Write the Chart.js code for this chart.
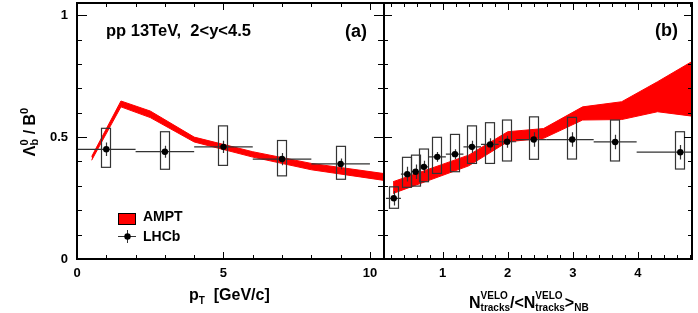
<!DOCTYPE html>
<html>
<head>
<meta charset="utf-8">
<script src="https://cdn.jsdelivr.net/npm/chart.js@4.4.0/dist/chart.umd.min.js"></script>
<style>
    body { margin: 0; background: #fff; width: 698px; height: 313px; overflow: hidden; position: relative; }
    #wrap-a { position: absolute; left: 0; top: 0; }
    #wrap-b { position: absolute; left: 380px; top: 0; }
</style>
</head>
<body>
<div id="wrap-a"><canvas id="chart-a" width="386" height="313"></canvas></div>
<div id="wrap-b"><canvas id="chart-b" width="318" height="313"></canvas></div>
<script>
// ---- panel (a): ratio vs pT ----
const ptCenter = [1, 3, 5, 7, 9];
const ptLow = [0, 2, 4, 6, 8];
const ptHigh = [2, 4, 6, 8, 10];
const ptRatio = [0.45, 0.44, 0.46, 0.41, 0.39];
const ptStat = [0.028, 0.025, 0.025, 0.025, 0.022];
const ptSysLow = [0.376, 0.368, 0.384, 0.341, 0.327];
const ptSysHigh = [0.536, 0.522, 0.546, 0.486, 0.462];

const amptPtX = [0.5, 1.5, 2.5, 4, 6, 8, 10.5];
const amptPtUpper = [0.42, 0.648, 0.607, 0.5, 0.44, 0.392, 0.35];
const amptPtLower = [0.405, 0.624, 0.58, 0.48, 0.418, 0.366, 0.322];

// ---- panel (b): ratio vs normalised multiplicity ----
const multCenter = [0.25, 0.457, 0.585, 0.713, 0.918, 1.19, 1.45, 1.73, 1.99, 2.4, 2.99, 3.65, 4.65];
const multLow = [0.13, 0.36, 0.52, 0.65, 0.79, 1.05, 1.32, 1.59, 1.86, 2.13, 2.6, 3.32, 3.98];
const multHigh = [0.36, 0.52, 0.65, 0.78, 1.05, 1.32, 1.59, 1.86, 2.13, 2.6, 3.32, 3.98, 5.3];
const multRatio = [0.249, 0.348, 0.358, 0.378, 0.419, 0.43, 0.46, 0.47, 0.481, 0.49, 0.49, 0.48, 0.438];
const multStat = [0.03, 0.03, 0.03, 0.025, 0.02, 0.02, 0.025, 0.025, 0.025, 0.03, 0.03, 0.03, 0.03];
const multSysLow = [0.208, 0.294, 0.299, 0.317, 0.351, 0.358, 0.392, 0.392, 0.402, 0.409, 0.41, 0.402, 0.369];
const multSysHigh = [0.296, 0.417, 0.426, 0.451, 0.499, 0.511, 0.546, 0.559, 0.57, 0.583, 0.581, 0.57, 0.522];

const amptMultX = [0.24, 1.4, 2.0, 2.55, 3.15, 3.75, 4.3, 4.83];
const amptMultUpper = [0.317, 0.426, 0.522, 0.535, 0.624, 0.645, 0.727, 0.81];
const amptMultLower = [0.269, 0.382, 0.481, 0.495, 0.57, 0.572, 0.604, 0.586];

// ---- ticks ----
const yMajor = [0, 0.5, 1];
const yMinor = [0.1, 0.2, 0.3, 0.4, 0.6, 0.7, 0.8, 0.9];
const ptMajor = [0, 5, 10];
const ptMinor = [1, 2, 3, 4, 6, 7, 8, 9];
const multMajor = [1, 2, 3, 4];
const multMinor = [0.2, 0.4, 0.6, 0.8, 1.2, 1.4, 1.6, 1.8, 2.2, 2.4, 2.6, 2.8, 3.2, 3.4, 3.6, 3.8, 4.2, 4.4, 4.6, 4.8];

const FONT = '"Liberation Sans", Arial, sans-serif';

function toPoints(xs, ys) {
    return xs.map((v, i) => ({ x: v, y: ys[i] }));
}

// draw a run of text pieces; a piece with "stack" puts sup and sub on top of each other
function richText(ctx, segs, x, y, draw) {
    let cx = x;
    segs.forEach(s => {
        const items = s.stack || [s];
        let w = 0;
        items.forEach(t => {
            ctx.font = `bold ${t.size}px ${FONT}`;
            if (draw) ctx.fillText(t.text, cx, y + (t.dy || 0));
            w = Math.max(w, ctx.measureText(t.text).width);
        });
        cx += w;
    });
    return cx - x;
}

function drawTicks(ctx, a, xs, ys, t) {
    ctx.save();
    ctx.strokeStyle = '#000';
    ctx.lineWidth = 1;
    ctx.beginPath();
    const hTick = (vals, lenL, lenR) => vals.forEach(v => {
        const py = Math.round(ys.getPixelForValue(v)) + 0.5;
        ctx.moveTo(a.left, py); ctx.lineTo(a.left + lenL, py);
        ctx.moveTo(a.right, py); ctx.lineTo(a.right - lenR, py);
    });
    const vTick = (vals, len) => vals.forEach(v => {
        const px = Math.round(xs.getPixelForValue(v)) + 0.5;
        ctx.moveTo(px, a.bottom); ctx.lineTo(px, a.bottom - len);
        ctx.moveTo(px, a.top); ctx.lineTo(px, a.top + len);
    });
    hTick(yMajor, t.yMajL, t.yMajR);
    hTick(yMinor, t.yMinL, t.yMinR);
    vTick(t.xMajor, 7);
    vTick(t.xMinor, 4);
    ctx.stroke();
    ctx.restore();
}

function panelPlugin(p) {
    return {
        id: 'panel' + p.name,
        beforeDatasetDraw(chart, args) {
            if (args.index !== 0) return;
            const { ctx, chartArea: a, scales: { x, y } } = chart;
            ctx.save();
            ctx.beginPath();
            ctx.rect(a.left, a.top, a.right - a.left, a.bottom - a.top);
            ctx.clip();
            ctx.strokeStyle = '#333';
            ctx.lineWidth = 1.2;
            p.center.forEach((c, i) => {
                const px = Math.round(x.getPixelForValue(c));
                const yt = y.getPixelForValue(p.sysHigh[i]);
                const yb = y.getPixelForValue(p.sysLow[i]);
                ctx.strokeRect(px - 4.5, yt, 9, yb - yt);
                const py = y.getPixelForValue(p.ratio[i]);
                ctx.beginPath();
                ctx.moveTo(x.getPixelForValue(p.low[i]), py);
                ctx.lineTo(x.getPixelForValue(p.high[i]), py);
                ctx.moveTo(px + 0.5, y.getPixelForValue(p.ratio[i] + p.stat[i]));
                ctx.lineTo(px + 0.5, y.getPixelForValue(p.ratio[i] - p.stat[i]));
                ctx.stroke();
            });
            ctx.restore();
        },
        afterDraw(chart) {
            const { ctx, chartArea: a, scales: { x, y } } = chart;
            drawTicks(ctx, a, x, y, p.ticks);
            ctx.save();
            ctx.strokeStyle = '#000';
            ctx.lineWidth = 2;
            ctx.strokeRect(a.left, a.top, a.right - a.left, a.bottom - a.top);
            ctx.fillStyle = '#000';
            ctx.textBaseline = 'alphabetic';
            ctx.textAlign = 'left';
            p.decorate(ctx, chart);
            ctx.restore();
        }
    };
}

function baseOptions(xMin, xMax, xTicks, showY, padding) {
    return {
        responsive: false,
        animation: false,
        devicePixelRatio: 1,
        layout: { padding: padding, autoPadding: false },
        plugins: { legend: { display: false }, tooltip: { enabled: false } },
        scales: {
            x: {
                type: 'linear', min: xMin, max: xMax,
                grid: { display: false, drawTicks: false },
                border: { display: false },
                ticks: { color: '#000', padding: 7, font: { family: FONT, size: 13, weight: 'bold' }, callback: v => String(v) },
                afterBuildTicks: s => { s.ticks = xTicks.map(v => ({ value: v })); },
                afterFit: s => { s.height = 54; s.paddingLeft = 0; s.paddingRight = 0; }
            },
            y: {
                type: 'linear', min: 0, max: 1.05, display: showY,
                grid: { display: false, drawTicks: false },
                border: { display: false },
                ticks: { color: '#000', padding: 9, font: { family: FONT, size: 13, weight: 'bold' }, callback: v => String(v) },
                afterBuildTicks: s => { s.ticks = yMajor.map(v => ({ value: v })); },
                afterFit: s => {
                    if (showY) s.width = 77;
                    s.paddingTop = 0;
                    s.paddingBottom = 0;
                }
            }
        }
    };
}

function buildDatasets(cx, cy, bx, bUp, bLow) {
    return [
        { type: 'scatter', label: 'LHCb', data: toPoints(cx, cy), pointRadius: 3.2, pointBorderWidth: 0, backgroundColor: '#000', borderColor: '#000' },
        { type: 'line', label: 'AMPT', data: toPoints(bx, bUp), borderColor: '#ff0000', borderWidth: 1, pointRadius: 0, tension: 0, fill: false },
        { type: 'line', label: 'AMPT low', data: toPoints(bx, bLow), borderColor: '#ff0000', borderWidth: 1, pointRadius: 0, tension: 0, fill: '-1', backgroundColor: '#ff0000' }
    ];
}

// ---- chart (a) ----
new Chart(document.getElementById('chart-a'), {
    type: 'scatter',
    data: { datasets: buildDatasets(ptCenter, ptRatio, amptPtX, amptPtUpper, amptPtLower) },
    options: baseOptions(0, 10.48, ptMajor, true, { top: 3, right: 2, left: 0, bottom: 0 }),
    plugins: [panelPlugin({
        name: 'A', center: ptCenter, low: ptLow, high: ptHigh, ratio: ptRatio, stat: ptStat,
        sysLow: ptSysLow, sysHigh: ptSysHigh,
        ticks: { xMajor: ptMajor, xMinor: ptMinor, yMajL: 10, yMajR: 10, yMinL: 5, yMinR: 6 },
        decorate(ctx) {
            ctx.font = `bold 16.5px ${FONT}`;
            ctx.fillText('pp 13TeV,  2<y<4.5', 106, 36);
            ctx.font = `bold 18px ${FONT}`;
            ctx.fillText('(a)', 345, 37);
            // axis title
            richText(ctx, [{ text: 'p', size: 16 }, { text: 'T', size: 10, dy: 4 }, { text: '  [GeV/c]', size: 16 }], 189, 300, true);
            // y title, rotated
            const segs = [
                { text: 'Λ', size: 16 },
                { stack: [{ text: '0', size: 11, dy: -7 }, { text: 'b', size: 11, dy: 3 }] },
                { text: ' / ', size: 16 },
                { text: 'B', size: 16 },
                { text: '0', size: 11, dy: -7 }
            ];
            const w = richText(ctx, segs, 0, 0, false);
            ctx.save();
            ctx.translate(35, 132);
            ctx.rotate(-Math.PI / 2);
            richText(ctx, segs, -w / 2, 0, true);
            ctx.restore();
            // legend
            ctx.fillStyle = '#ff0000';
            ctx.fillRect(118, 213, 17, 11);
            ctx.strokeStyle = '#000';
            ctx.lineWidth = 1;
            ctx.strokeRect(118.5, 213.5, 17, 11);
            ctx.fillStyle = '#000';
            ctx.font = `bold 14px ${FONT}`;
            ctx.fillText('AMPT', 143, 221);
            ctx.fillText('LHCb', 143, 241);
            ctx.strokeStyle = '#333';
            ctx.beginPath();
            ctx.moveTo(118, 236.5); ctx.lineTo(136, 236.5);
            ctx.moveTo(127.5, 230); ctx.lineTo(127.5, 243);
            ctx.stroke();
            ctx.beginPath();
            ctx.arc(127.5, 236.5, 3.2, 0, Math.PI * 2);
            ctx.fill();
        }
    })]
});

// ---- chart (b) ----
new Chart(document.getElementById('chart-b'), {
    type: 'scatter',
    data: { datasets: buildDatasets(multCenter, multRatio, amptMultX, amptMultUpper, amptMultLower) },
    options: baseOptions(0.1, 4.83, multMajor, false, { top: 3, right: 6, left: 4, bottom: 0 }),
    plugins: [panelPlugin({
        name: 'B', center: multCenter, low: multLow, high: multHigh, ratio: multRatio, stat: multStat,
        sysLow: multSysLow, sysHigh: multSysHigh,
        ticks: { xMajor: multMajor, xMinor: multMinor, yMajL: 8, yMajR: 8, yMinL: 4, yMinR: 4 },
        decorate(ctx) {
            ctx.font = `bold 18px ${FONT}`;
            ctx.fillText('(b)', 275, 36);
            const nTracks = { stack: [{ text: 'VELO', size: 10, dy: -9 }, { text: 'tracks', size: 10, dy: 3 }] };
            richText(ctx, [
                { text: 'N', size: 16 }, nTracks,
                { text: '/<', size: 16 },
                { text: 'N', size: 16 }, nTracks,
                { text: '>', size: 16 },
                { text: 'NB', size: 10, dy: 3 }
            ], 89, 308, true);
        }
    })]
});
</script>
</body>
</html>
